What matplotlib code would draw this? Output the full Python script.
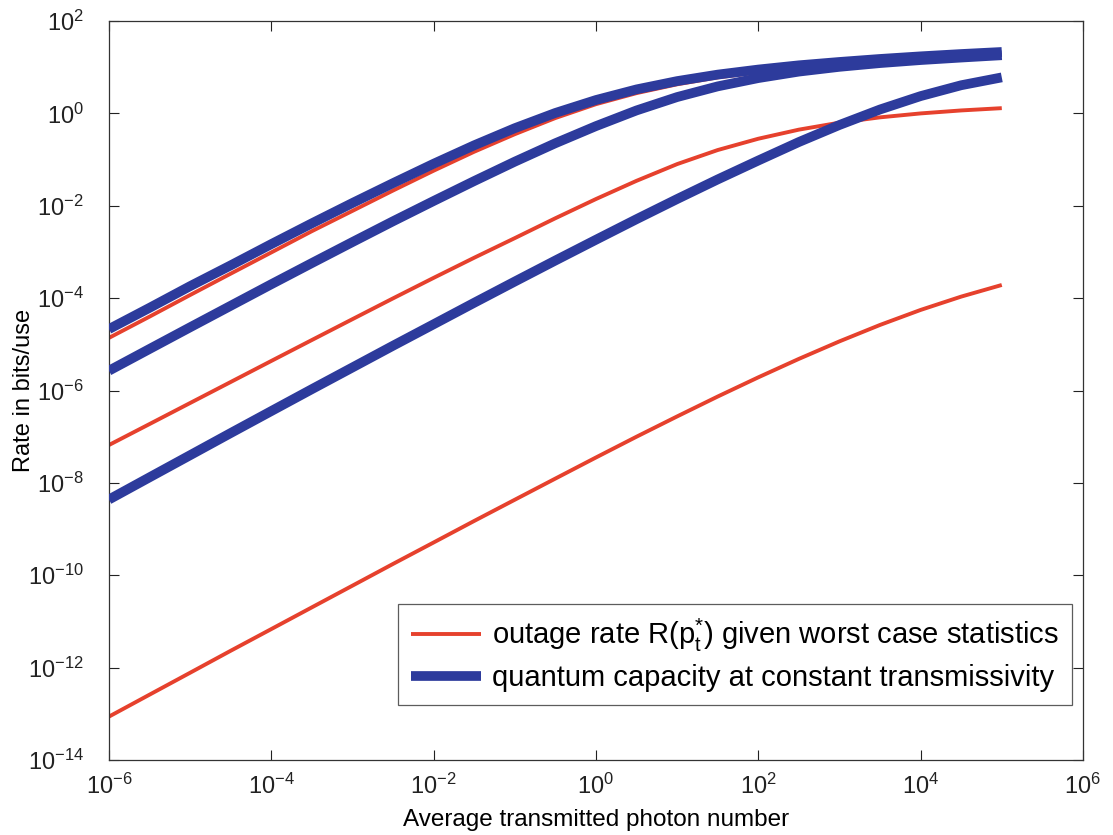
import numpy as np
import matplotlib
matplotlib.use('Agg')
import matplotlib.pyplot as plt

plt.rcParams['font.family'] = ['Liberation Sans', 'DejaVu Sans']
plt.rcParams['mathtext.fontset'] = 'custom'
plt.rcParams['mathtext.rm'] = 'Liberation Sans'
plt.rcParams['mathtext.it'] = 'Liberation Sans'

# average transmitted photon number (half-decade grid)
photons = [1e-6, 3.16e-6, 1e-5, 3.16e-5, 1e-4, 3.16e-4, 1e-3, 3.16e-3, 1e-2, 3.16e-2,
           1e-1, 3.16e-1, 1e0, 3.16e0, 1e1, 3.16e1, 1e2, 3.16e2, 1e3, 3.16e3,
           1e4, 3.16e4, 1e5]

# outage rate curves (red)
outage_hi = [1.38e-5, 3.98e-5, 1.17e-4, 3.39e-4, 9.77e-4, 2.82e-3, 7.76e-3, 2.14e-2, 5.75e-2, 0.148,
             0.355, 0.794, 1.585, 2.75, 4.27, 6.03, 7.76, 9.55, 11.35, 13.2,
             15.0, 16.8, 18.6]
outage_mid = [6.61e-8, 1.88e-7, 5.37e-7, 1.53e-6, 4.37e-6, 1.24e-5, 3.51e-5, 9.89e-5, 2.75e-4, 7.5e-4,
              1.995e-3, 5.37e-3, 1.4e-2, 3.47e-2, 7.99e-2, 0.161, 0.283, 0.445, 0.631, 0.822,
              1.0, 1.16, 1.3]
outage_lo = [8.71e-14, 2.6e-13, 7.76e-13, 2.32e-12, 6.84e-12, 2.02e-11, 5.96e-11, 1.76e-10, 5.13e-10, 1.5e-9,
             4.32e-9, 1.24e-8, 3.55e-8, 1.0e-7, 2.75e-7, 7.41e-7, 1.93e-6, 4.84e-6, 1.16e-5, 2.63e-5,
             5.56e-5, 1.08e-4, 1.93e-4]

# quantum capacity curves at constant transmissivity (blue)
capacity_hi = [2.14e-5, 6.17e-5, 1.82e-4, 5.13e-4, 1.48e-3, 4.17e-3, 1.15e-2, 3.09e-2, 8.13e-2, 0.204,
               0.479, 1.023, 1.95, 3.31, 5.01, 6.92, 8.91, 11.0, 13.0, 15.1,
               17.2, 19.3, 21.4]
capacity_mid = [2.69e-6, 7.94e-6, 2.34e-5, 6.84e-5, 2.0e-4, 5.75e-4, 1.64e-3, 4.62e-3, 1.27e-2, 3.43e-2,
                9.02e-2, 0.226, 0.531, 1.16, 2.26, 3.85, 5.82, 8.04, 10.2, 12.3,
                14.3, 16.2, 18.2]
capacity_lo = [4.37e-9, 1.32e-8, 3.98e-8, 1.2e-7, 3.59e-7, 1.07e-6, 3.16e-6, 9.33e-6, 2.72e-5, 7.94e-5,
               2.29e-4, 6.53e-4, 1.84e-3, 5.13e-3, 1.4e-2, 3.72e-2, 9.55e-2, 0.24, 0.562, 1.216,
               2.371, 4.074, 6.026]

red = '#e6412d'
blue = '#2d3b9c'

fig = plt.figure(figsize=(11.13, 8.35), dpi=100)
ax = fig.add_axes([0.0979, 0.0898, 0.8751, 0.885])

for i, y in enumerate([outage_hi, outage_mid, outage_lo]):
    ax.loglog(photons, y, color=red, lw=2.8, zorder=2, solid_capstyle='butt', solid_joinstyle='round',
              label=r'outage rate R($\mathrm{p}_\mathrm{t}^{*}$) given worst case statistics' if i == 0 else None)
for i, y in enumerate([capacity_hi, capacity_mid, capacity_lo]):
    ax.loglog(photons, y, color=blue, lw=7, zorder=3, solid_capstyle='butt', solid_joinstyle='round',
              label='quantum capacity at constant transmissivity' if i == 0 else None)

ax.set_xlim(1e-6, 1e6)
ax.set_ylim(1e-14, 1e2)
ax.set_xticks([10.0 ** k for k in range(-6, 7, 2)])
ax.set_yticks([10.0 ** k for k in range(-14, 3, 2)])
ax.minorticks_off()
ax.tick_params(direction='in', top=True, right=True, length=7, width=0.8,
               labelsize=17, colors='#222222')
ax.tick_params(axis='x', pad=10)
ax.tick_params(axis='y', pad=18)
for s in ax.spines.values():
    s.set_linewidth(0.9)
    s.set_color('#333333')

ax.set_xlabel('Average transmitted photon number', fontsize=17.5)
ax.xaxis.set_label_coords(0.5, -0.066)
ax.set_ylabel('Rate in bits/use', fontsize=17)
ax.yaxis.set_label_coords(-0.076, 0.5)

leg = ax.legend(loc='lower right', bbox_to_anchor=(0.989, 0.0744), fontsize=21,
                frameon=True, fancybox=False, edgecolor='#333333',
                handlelength=2.4, handletextpad=0.4, borderpad=0.45, labelspacing=0.33,
                borderaxespad=0)
leg.get_frame().set_linewidth(0.9)

fig.savefig('out.png', dpi=100)
